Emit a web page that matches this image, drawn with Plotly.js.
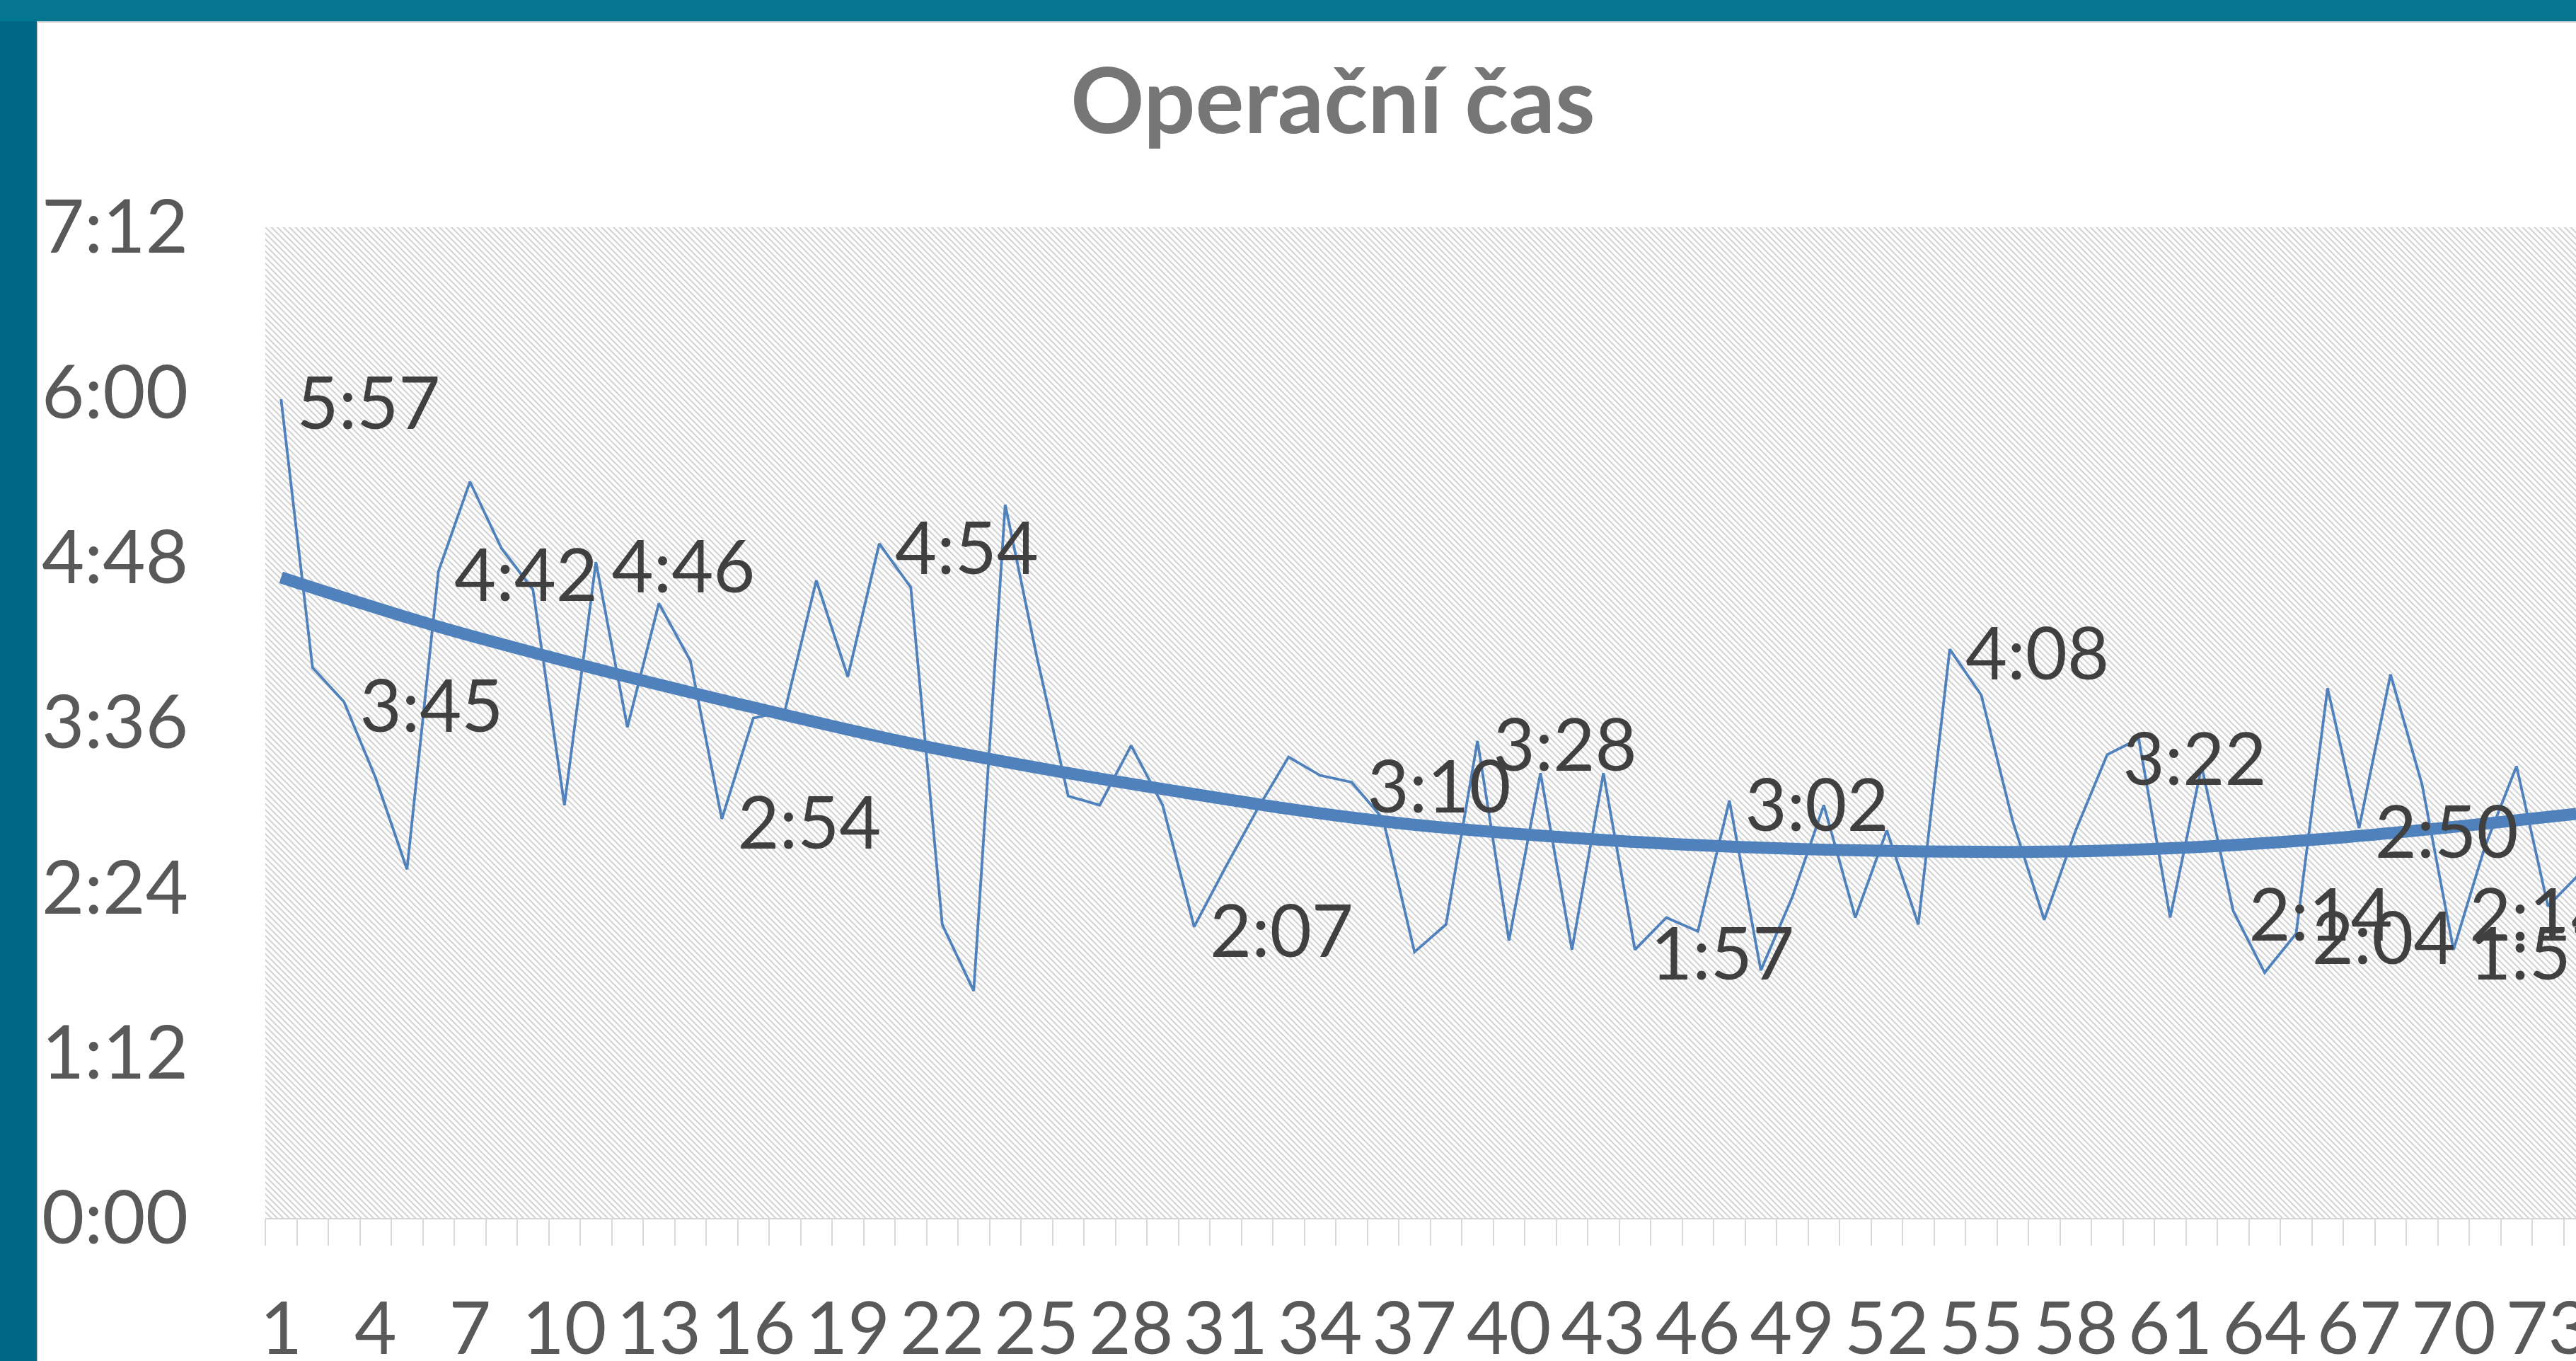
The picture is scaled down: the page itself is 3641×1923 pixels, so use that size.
<!DOCTYPE html>
<html>
<head>
<meta charset="utf-8">
<script src="https://cdn.plot.ly/plotly-3.0.1.min.js"></script>
<style>
html,body{margin:0;padding:0;width:3641px;height:1923px;overflow:hidden;background:#016786;}
#topband{position:absolute;left:0;top:0;width:3641px;height:30px;background:#04768F;}
#chart{position:absolute;left:52px;top:30px;width:3589px;height:1893px;background:#ffffff;box-shadow:inset 2px 2px 0 #d4d4d4;}
</style>
</head>
<body>
<div id="topband"></div>
<div id="chart"></div>
<script>
// Case number (x axis categories)
const categories = [1,2,3,4,5,6,7,8,9,10,11,12,13,14,15,16,17,18,19,20,21,22,23,24,25,26,27,28,29,30,31,32,33,34,35,36,37,38,39,40,41,42,43,44,45,46,47,48,49,50,51,52,53,54,55,56,57,58,59,60,61,62,63,64,65,66,67,68,69,70,71,72,73,74];

// Operating time in minutes
const durationMin = [357,240,225,192,152,282,321,292,274,180,
                     286,214,268,243,174,218,221,278,236,294,
                     275,128,99,311,245,184,180,206,180,127,
                     153,178,201,193,190,174,116,128,208,121,
                     194,117,194,117,131,125,182,108,140,180,
                     131,169,128,248,228,173,130,169,202,209,
                     131,197,134,107,124,231,170,237,189,117,
                     162,197,136,150];

// Points that carry a data label
const labelPoints = [1,3,6,11,15,20,30,35,39,44,47,54,59,63,65,67,70];
// Extra label visible near case 70
const extraLabelX = [70];
const extraLabelMin = [134];

// Polynomial trend line (minutes)
const trendX = [1, 5.8, 10.5, 15, 21.4, 29.6, 36.1, 44.1, 51.1, 58.6, 65.4, 73.9];
const trendMin = [279.3, 258.6, 241.2, 225.9, 205.8, 185.7, 172.8, 163.9, 160.3, 160.1, 164.8, 176.2];

// Y axis ticks (minutes) and their labels
const yTickVals = [0, 72, 144, 216, 288, 360, 432];
const yTickText = ['0:00','1:12','2:24','3:36','4:48','6:00','7:12'];

const xRange = [0.5, 73.89];
const yRange = [0, 432];
const labelDrop = 5.2; // minutes: labels sit slightly below the point's centre line

function fmt(m){ const h = Math.floor(m/60); const mm = Math.round(m - h*60); return h + ':' + (mm<10?'0':'') + mm; }

const xTickVals = categories.filter(c => c % 3 === 1);
const xTickText = xTickVals.map(String);

const FONT = 'Lato, "Open Sans", sans-serif';
const BLUE = '#4F81BD';

const traces = [
  { // hatched plot-area background
    x: [xRange[0], xRange[1], xRange[1], xRange[0], xRange[0]],
    y: [yRange[0], yRange[0], yRange[1], yRange[1], yRange[0]],
    mode: 'none', fill: 'toself', fillcolor: '#ffffff',
    fillpattern: {shape: '\\', fgcolor: '#d0d0d0', bgcolor: '#ffffff', size: 6, solidity: 0.35},
    hoverinfo: 'skip', showlegend: false
  },
  {
    x: categories, y: durationMin, mode: 'lines',
    line: {color: BLUE, width: 3.8}, showlegend: false
  },
  {
    x: trendX, y: trendMin, mode: 'lines',
    line: {color: BLUE, width: 17, shape: 'spline', smoothing: 1}, showlegend: false
  },
  {
    x: labelPoints, y: labelPoints.map(i => durationMin[i-1]),
    yaxis: 'y2',
    text: labelPoints.map(i => fmt(durationMin[i-1])),
    mode: 'markers+text', marker: {size: 34, color: 'rgba(0,0,0,0)'},
    textposition: 'middle right',
    textfont: {family: FONT, size: 102, color: '#404040'},
    cliponaxis: true, showlegend: false, hoverinfo: 'skip'
  },
  {
    x: extraLabelX, y: extraLabelMin,
    yaxis: 'y2',
    text: extraLabelMin.map(fmt),
    mode: 'markers+text', marker: {size: 34, color: 'rgba(0,0,0,0)'},
    textposition: 'middle right',
    textfont: {family: FONT, size: 102, color: '#404040'},
    cliponaxis: true, showlegend: false, hoverinfo: 'skip'
  }
];

const layout = {
  width: 3589, height: 1893,
  margin: {l: 323, r: 0, t: 291, b: 202, pad: 0},
  paper_bgcolor: 'rgba(0,0,0,0)', plot_bgcolor: '#ffffff',
  showlegend: false,
  title: {
    text: 'Operační čas',
    font: {family: FONT, size: 129, color: '#767676', weight: 'bold'},
    x: 0.462, xref: 'paper', xanchor: 'center',
    y: 0.9405, yref: 'container', yanchor: 'middle'
  },
  xaxis: {
    range: xRange, tickmode: 'array', tickvals: xTickVals, ticktext: xTickText,
    ticks: '', showgrid: false, zeroline: false,
    showline: true, linecolor: '#d9d9d9', linewidth: 2,
    tickfont: {family: FONT, size: 103, color: '#595959'},
    ticklabelstandoff: 66, ticklabeloverflow: 'allow',
    minor: {tick0: 0.5, dtick: 1, ticks: 'outside', ticklen: 37, tickwidth: 2, tickcolor: '#d9d9d9', showgrid: false}
  },
  yaxis: {
    range: yRange, tickmode: 'array', tickvals: yTickVals, ticktext: yTickText,
    ticks: '', showgrid: false, zeroline: false, showline: false,
    tickfont: {family: FONT, size: 104, color: '#595959'},
    ticklabelstandoff: 108
  },
  yaxis2: {
    overlaying: 'y', range: [yRange[0] + labelDrop, yRange[1] + labelDrop], visible: false
  }
};

Plotly.newPlot('chart', traces, layout, {staticPlot: true, displayModeBar: false});
</script>
</body>
</html>
